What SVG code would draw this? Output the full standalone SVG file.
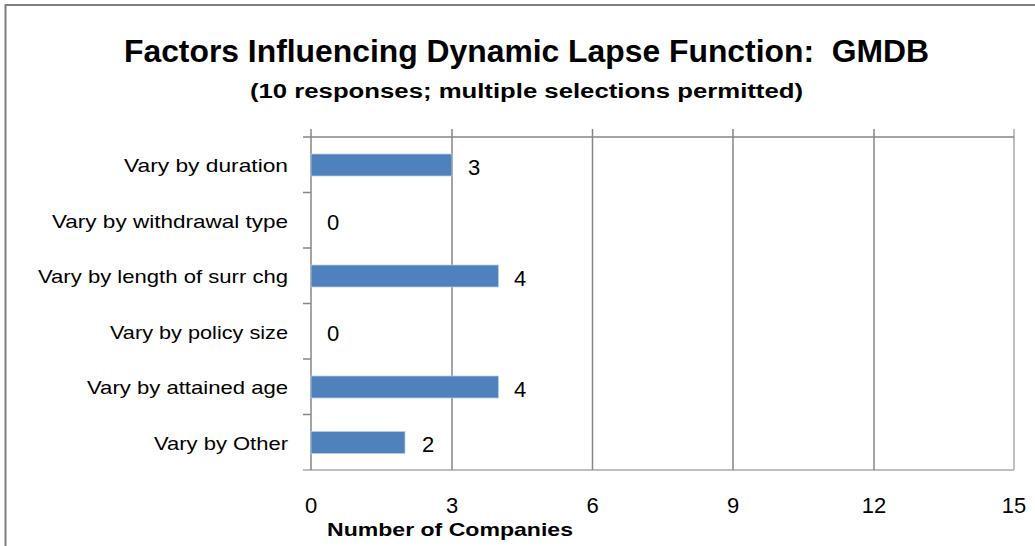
<svg xmlns="http://www.w3.org/2000/svg" width="1035" height="546" viewBox="0 0 1035 546">
<style>
text{font-family:"Liberation Sans",Arial,sans-serif;fill:#000}
.title{font-weight:bold;font-size:32px;white-space:pre}
.sub{font-weight:bold;font-size:20px}
.cat{font-size:19px;text-anchor:end}
.val{font-size:22px}
.tick{font-size:22px;text-anchor:middle}
.axt{font-weight:bold;font-size:18.5px}
.grid{stroke:#868686;stroke-width:1.5}
.light{stroke:#BFBFBF;stroke-width:2}
.bar{fill:#4F81BD;stroke:#B9CDE5;stroke-width:0.75}
</style>
<rect x="0" y="0" width="1035" height="546" fill="#fff"/>
<g id="frame" fill="none" stroke="#7F7F7F" stroke-width="2">
<path d="M5.5,546 V5 H1035"/>
</g>
<g id="titles">
<text class="title" x="124" y="62" textLength="805" lengthAdjust="spacingAndGlyphs">Factors Influencing Dynamic Lapse Function:  GMDB</text>
<text class="sub" x="250" y="98" textLength="553" lengthAdjust="spacingAndGlyphs">(10 responses; multiple selections permitted)</text>
</g>
<g id="gridlines" fill="none">
<line class="light" x1="303" y1="470" x2="1014" y2="470"/>
<line class="light" x1="1014" y1="129" x2="1014" y2="470"/>
<line class="grid" x1="303" y1="137" x2="1014" y2="137"/>
<line class="grid" x1="452" y1="129" x2="452" y2="470"/>
<line class="grid" x1="592.5" y1="129" x2="592.5" y2="470"/>
<line class="grid" x1="733" y1="129" x2="733" y2="470"/>
<line class="grid" x1="874" y1="129" x2="874" y2="470"/>
<line class="grid" x1="311" y1="129" x2="311" y2="470"/>
<path class="grid" d="M303,192.5H311M303,248H311M303,303.5H311M303,359H311M303,414.5H311"/>
</g>
<g id="bars">
<rect class="bar" x="311" y="154" width="141" height="22"/>
<rect class="bar" x="311" y="265" width="187.5" height="22"/>
<rect class="bar" x="311" y="376" width="187.5" height="22"/>
<rect class="bar" x="311" y="431.5" width="94" height="22"/>
</g>
<g id="category-labels">
<text class="cat" x="288" y="172" textLength="164" lengthAdjust="spacingAndGlyphs">Vary by duration</text>
<text class="cat" x="288" y="228" textLength="236" lengthAdjust="spacingAndGlyphs">Vary by withdrawal type</text>
<text class="cat" x="288" y="283" textLength="250" lengthAdjust="spacingAndGlyphs">Vary by length of surr chg</text>
<text class="cat" x="288" y="339" textLength="178" lengthAdjust="spacingAndGlyphs">Vary by policy size</text>
<text class="cat" x="288" y="394" textLength="201" lengthAdjust="spacingAndGlyphs">Vary by attained age</text>
<text class="cat" x="288" y="450" textLength="134" lengthAdjust="spacingAndGlyphs">Vary by Other</text>
</g>
<g id="value-labels">
<text class="val" x="468" y="175">3</text>
<text class="val" x="327" y="230">0</text>
<text class="val" x="514" y="286">4</text>
<text class="val" x="327" y="341">0</text>
<text class="val" x="514" y="397">4</text>
<text class="val" x="422" y="452">2</text>
</g>
<g id="axis-labels">
<text class="tick" x="311" y="513">0</text>
<text class="tick" x="452" y="513">3</text>
<text class="tick" x="592.5" y="513">6</text>
<text class="tick" x="733" y="513">9</text>
<text class="tick" x="874" y="513">12</text>
<text class="tick" x="1014" y="513">15</text>
<text class="axt" x="327" y="536" textLength="246" lengthAdjust="spacingAndGlyphs">Number of Companies</text>
</g>
</svg>
